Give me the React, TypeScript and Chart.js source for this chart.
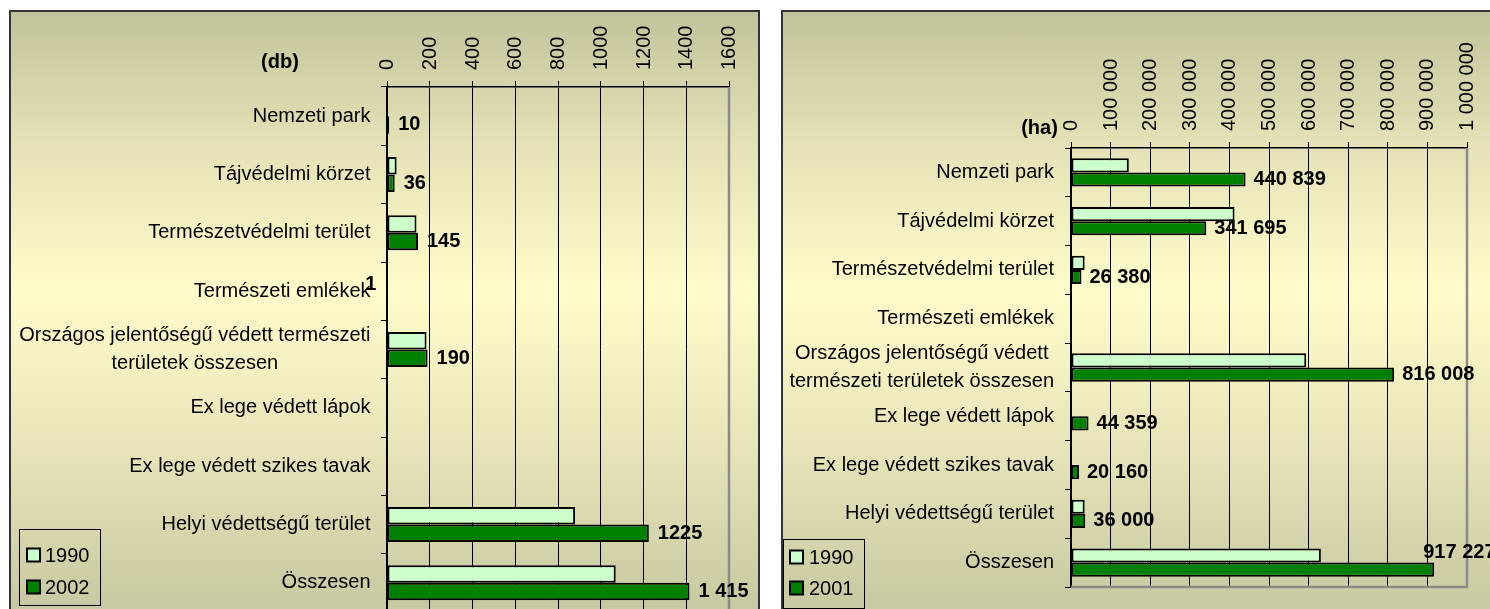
import React, { useEffect, useRef } from "react";
import { Chart, registerables } from "chart.js";

Chart.register(...registerables);

const FONT = "Arial, 'Liberation Sans', Helvetica, sans-serif";

// ---------- data: left chart (db = pieces) ----------
const categoriesDb: (string | string[])[] = [
  "Nemzeti park",
  "Tájvédelmi körzet",
  "Természetvédelmi terület",
  "Természeti emlékek",
  ["Országos jelentőségű védett természeti", "területek összesen"],
  "Ex lege védett lápok",
  "Ex lege védett szikes tavak",
  "Helyi védettségű terület",
  "Összesen",
];
const db1990 = [5, 45, 138, null, 185, null, null, 880, 1070];
const db2002 = [10, 36, 145, 1, 190, null, null, 1225, 1415];
const db2002Labels = ["10", "36", "145", "1", "190", null, null, "1225", "1 415"];
const dbAxisMax = 1600;
const dbAxisStep = 200;

// ---------- data: right chart (ha = hectares) ----------
const categoriesHa: (string | string[])[] = [
  "Nemzeti park",
  "Tájvédelmi körzet",
  "Természetvédelmi terület",
  "Természeti emlékek",
  ["Országos jelentőségű védett", "természeti területek összesen"],
  "Ex lege védett lápok",
  "Ex lege védett szikes tavak",
  "Helyi védettségű terület",
  "Összesen",
];
const ha1990 = [146000, 413000, 34500, null, 594000, null, null, 34500, 631000];
const ha2001 = [440839, 341695, 26380, null, 816008, 44359, 20160, 36000, 917227];
const haAxisMax = 1000000;
const haAxisStep = 100000;

const seriesNames = { a: "1990", bLeft: "2002", bRight: "2001" };

const fmt = (v: number) => String(v).replace(/\B(?=(\d{3})+(?!\d))/g, " ");

const decorPlugin = {
  id: "decor",
  beforeDatasetsDraw(chart: any) {
    const { ctx, chartArea } = chart;
    ctx.save();
    ctx.strokeStyle = "#8a8a8a";
    ctx.lineWidth = 2.5;
    ctx.beginPath();
    ctx.moveTo(chartArea.right, chartArea.top);
    ctx.lineTo(chartArea.right, chartArea.bottom);
    ctx.lineTo(chartArea.left, chartArea.bottom);
    ctx.stroke();
    ctx.restore();
  },
  afterDraw(chart: any, _a: any, opts: any) {
    const { ctx, chartArea } = chart;
    const yScale = chart.scales.y;
    const labels: (string | string[])[] = chart.data.labels;
    ctx.save();
    // category labels
    ctx.fillStyle = "#000";
    ctx.font = `20px ${FONT}`;
    ctx.textBaseline = "middle";
    const rightEdge = chartArea.left - opts.catGap;
    labels.forEach((lab, i) => {
      const y = yScale.getPixelForValue(i);
      const lines = Array.isArray(lab) ? lab : [lab];
      const maxW = Math.max(...lines.map((l) => ctx.measureText(l).width));
      const n = lines.length;
      lines.forEach((l, k) => {
        const ly = y + (k - (n - 1) / 2) * 28;
        if (n === 1) {
          ctx.textAlign = "right";
          ctx.fillText(l, rightEdge, ly);
        } else {
          ctx.textAlign = "center";
          ctx.fillText(l, rightEdge - maxW / 2, ly);
        }
      });
    });
    // value labels for second series
    const meta = chart.getDatasetMeta(1);
    const vlabels: (string | null)[] = opts.valueLabels;
    ctx.font = `bold 20px ${FONT}`;
    ctx.textAlign = "left";
    meta.data.forEach((el: any, i: number) => {
      const t = vlabels[i];
      if (t == null) return;
      const sh = (opts.shifts && opts.shifts[i]) || [0, 0];
      ctx.fillText(t, el.x + opts.valueGap + sh[0], el.y + sh[1]);
    });
    // unit label
    ctx.font = `bold 20px ${FONT}`;
    ctx.textAlign = "center";
    ctx.fillText(opts.unit.text, opts.unit.x, opts.unit.y);
    // legend
    const lg = opts.legend;
    ctx.strokeStyle = "#000";
    ctx.lineWidth = 1;
    ctx.strokeRect(lg.x + 0.5, lg.y + 0.5, lg.w, lg.h);
    ctx.font = `20px ${FONT}`;
    ctx.textAlign = "left";
    chart.data.datasets.forEach((ds: any, i: number) => {
      const cy = lg.rows[i];
      ctx.fillStyle = ds.backgroundColor;
      ctx.fillRect(lg.mx, cy - 6.5, 13, 13);
      ctx.lineWidth = 2;
      ctx.strokeRect(lg.mx, cy - 6.5, 13, 13);
      ctx.fillStyle = "#000";
      ctx.fillText(ds.label, lg.tx, cy + 1);
    });
    ctx.restore();
  },
};

function makeConfig(p: any) {
  return {
    type: "bar",
    data: {
      labels: p.labels,
      datasets: [
        {
          label: p.nameA,
          data: p.a,
          backgroundColor: "#CCFFCC",
          borderColor: "#000",
          borderWidth: 2,
          borderSkipped: false,
          categoryPercentage: p.catPct,
          barPercentage: 1,
        },
        {
          label: p.nameB,
          data: p.b,
          backgroundColor: "#008000",
          borderColor: "#000",
          borderWidth: 2,
          borderSkipped: false,
          categoryPercentage: p.catPct,
          barPercentage: 1,
        },
      ],
    },
    options: {
      indexAxis: "y",
      responsive: false,
      maintainAspectRatio: false,
      animation: false,
      events: [],
      layout: { padding: p.padding },
      plugins: {
        legend: { display: false },
        tooltip: { enabled: false },
        decor: p.decor,
      },
      scales: {
        x: {
          type: "linear",
          position: "top",
          min: 0,
          max: p.max,
          ticks: {
            stepSize: p.step,
            autoSkip: false,
            minRotation: 90,
            maxRotation: 90,
            padding: 11,
            labelOffset: 24.5,
            color: "#000",
            font: { family: FONT, size: 20 },
            callback: (v: any) => p.tickFmt(v),
          },
          grid: { color: "#000", lineWidth: 1, tickLength: 6, drawTicks: true },
          border: { color: "#000", width: 1.5 },
          afterFit: (s: any) => {
            s.height = p.xHeight;
          },
        },
        y: {
          type: "category",
          ticks: { display: false },
          grid: { drawOnChartArea: false, drawTicks: true, tickLength: 6, color: "#000", offset: true },
          border: { color: "#000", width: 1.5 },
          afterFit: (s: any) => {
            s.width = 7;
          },
        },
      },
    },
    plugins: [decorPlugin],
  };
}

export default function App() {
  const leftRef = useRef<HTMLCanvasElement>(null);
  const rightRef = useRef<HTMLCanvasElement>(null);

  useEffect(() => {
    const left = new Chart(
      leftRef.current as any,
      makeConfig({
        labels: categoriesDb,
        a: db1990,
        b: db2002,
        nameA: seriesNames.a,
        nameB: seriesNames.bLeft,
        catPct: 0.6,
        max: dbAxisMax,
        step: dbAxisStep,
        tickFmt: (v: number) => String(v),
        xHeight: 87,
        padding: { left: 380, right: 41, top: 0, bottom: 28 },
        decor: {
          catGap: 16.5,
          valueGap: 9,
          valueLabels: db2002Labels,
          shifts: { 3: [-31, -15] },
          unit: { text: "(db)", x: 280, y: 62 },
          legend: { x: 19, y: 529, w: 81, h: 76, rows: [555, 587], mx: 27, tx: 45 },
        },
      }) as any
    );
    const right = new Chart(
      rightRef.current as any,
      makeConfig({
        labels: categoriesHa,
        a: ha1990,
        b: ha2001,
        nameA: seriesNames.a,
        nameB: seriesNames.bRight,
        catPct: 0.58,
        max: haAxisMax,
        step: haAxisStep,
        tickFmt: (v: number) => fmt(v),
        xHeight: 148,
        padding: { left: 294, right: 63, top: 0, bottom: 22 },
        decor: {
          catGap: 17,
          valueGap: 8,
          valueLabels: ha2001.map((v) => (v == null ? null : fmt(v))),
          shifts: { 8: [-19, -17] },
          unit: { text: "(ha)", x: 269.5, y: 128 },
          legend: { x: 13, y: 539, w: 81, h: 69, rows: [557, 588], mx: 20, tx: 39 },
        },
      }) as any
    );
    return () => {
      left.destroy();
      right.destroy();
    };
  }, []);

  const panelBg =
    "linear-gradient(to bottom, #c3c39c 0%, #e4e2b6 22%, #fffccb 46%, #e6e4b8 72%, #c6c6a0 100%)";

  return (
    <div
      style={{
        position: "fixed",
        left: 0,
        top: 0,
        width: 1490,
        height: 609,
        overflow: "hidden",
        background: "#fff",
      }}
    >
      <div
        style={{
          position: "absolute",
          left: 9,
          top: 10,
          width: 751,
          height: 612,
          boxSizing: "border-box",
          border: "2px solid #333",
          background: panelBg,
        }}
      />
      <div
        style={{
          position: "absolute",
          left: 781,
          top: 10,
          width: 760,
          height: 612,
          boxSizing: "border-box",
          border: "2px solid #333",
          background: panelBg,
        }}
      />
      <canvas
        ref={leftRef}
        width={770}
        height={640}
        style={{ position: "absolute", left: 0, top: 0, width: 770, height: 640 }}
      />
      <canvas
        ref={rightRef}
        width={760}
        height={609}
        style={{ position: "absolute", left: 770, top: 0, width: 760, height: 609 }}
      />
    </div>
  );
}
